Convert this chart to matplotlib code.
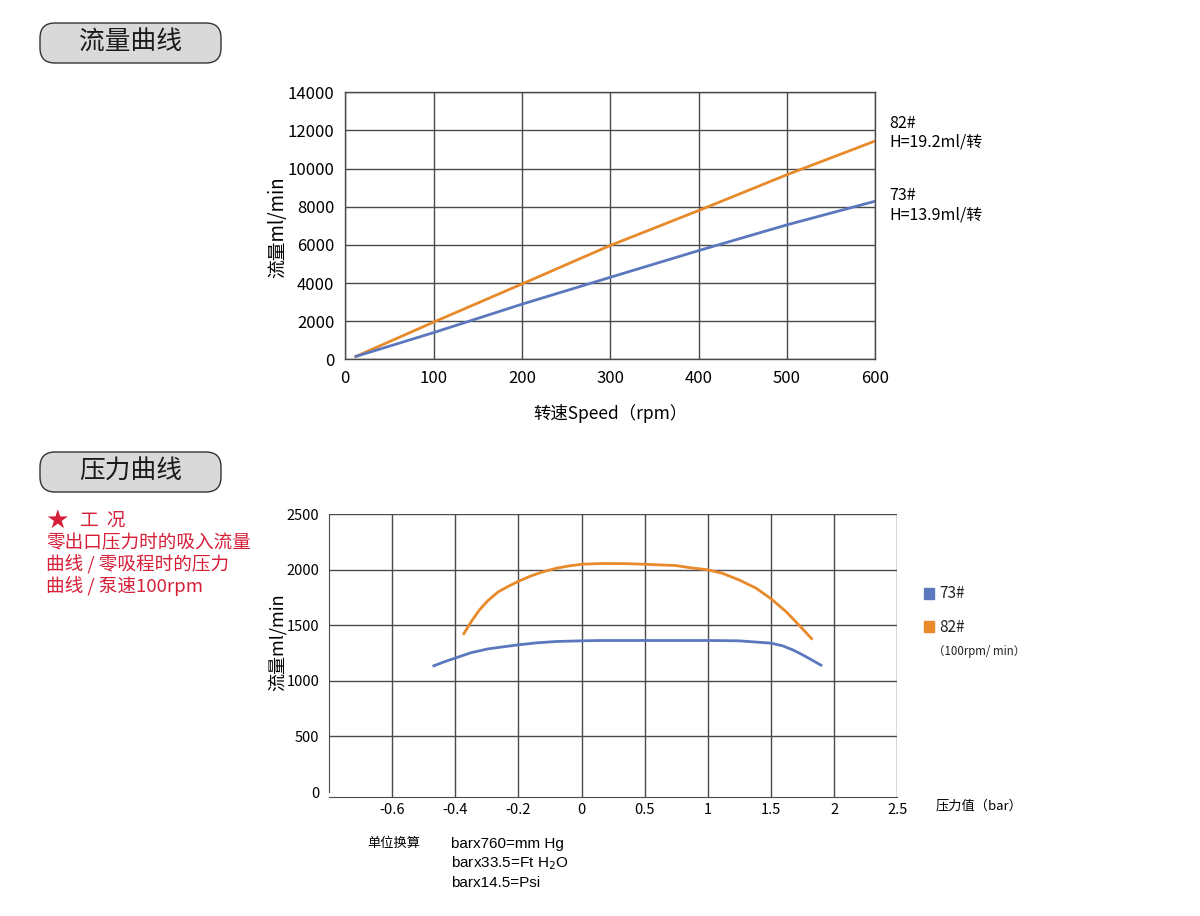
import numpy as np
import matplotlib
matplotlib.use("Agg")
import matplotlib.pyplot as plt
from matplotlib.patches import FancyBboxPatch

plt.rcParams['font.family'] = ['Noto Sans CJK SC', 'DejaVu Sans']

# ---------------- data ----------------
speed = [12, 100, 200, 300, 400, 500, 600]
flow_73 = [150, 1400, 2890, 4300, 5700, 7050, 8290]
flow_82 = [150, 1950, 3950, 5970, 7800, 9680, 11450]

pressure_ticks = [-0.8, -0.6, -0.4, -0.2, 0, 0.5, 1, 1.5, 2, 2.5]
pressure_labels = ['', '-0.6', '-0.4', '-0.2', '0', '0.5', '1', '1.5', '2', '2.5']

p73 = [-0.468, -0.434, -0.4, -0.349, -0.297, -0.243, -0.2, -0.141, -0.079, 0, 0.169,
       0.5, 0.848, 1.0, 1.246, 1.5, 1.592, 1.671, 1.75, 1.829, 1.895]
q73 = [1136, 1173, 1206, 1255, 1288, 1309, 1325, 1343, 1355, 1361, 1364,
       1364, 1364, 1364, 1361, 1340, 1316, 1280, 1235, 1185, 1142]
p82 = [-0.373, -0.349, -0.323, -0.297, -0.265, -0.233, -0.201, -0.16, -0.119, -0.079,
       -0.038, 0.008, 0.169, 0.35, 0.5, 0.742, 0.848, 1.0, 1.112, 1.246, 1.38, 1.5,
       1.618, 1.724, 1.821]
q82 = [1425, 1536, 1641, 1722, 1800, 1850, 1895, 1946, 1985, 2015,
       2036, 2051, 2057, 2056, 2050, 2039, 2021, 2000, 1970, 1910, 1836, 1740,
       1625, 1500, 1381]

ORANGE = '#E8892A'
BLUE = '#5B78BE'
RED = '#D6203A'
GRID = '#4a4a4a'

W, H = 1200, 916
fig = plt.figure(figsize=(12, 9.16), dpi=100)

def fx(px):
    return px / W

def fy(py):
    return 1 - py / H

# ---------- header boxes ----------
def header(top, bottom, text):
    x0, x1 = 40, 221
    box = FancyBboxPatch((x0 / 100, (H - bottom) / 100), (x1 - x0) / 100, (bottom - top) / 100,
                         boxstyle="round,pad=0,rounding_size=0.15",
                         transform=fig.dpi_scale_trans, facecolor='#d9d9d9',
                         edgecolor='#333333', linewidth=1.0)
    fig.patches.append(box)
    fig.text(fx((x0 + x1) / 2), fy((top + bottom) / 2), text, ha='center', va='center',
             fontsize=18.5, color='#1a1a1a')

header(23, 63, '流量曲线')
header(452, 492, '压力曲线')

# ---------- top chart ----------
ax1 = fig.add_axes([fx(345.3), fy(359.3), fx(875.3) - fx(345.3), fy(92.3) - fy(359.3)])
ax1.plot(speed, flow_82, color=ORANGE, lw=2)
ax1.plot(speed, flow_73, color=BLUE, lw=2)
ax1.set_xlim(0, 600)
ax1.set_ylim(0, 14000)
ax1.set_xticks(range(0, 601, 100))
ax1.set_yticks(range(0, 14001, 2000))
ax1.grid(True, color=GRID, lw=1)
ax1.tick_params(length=0, labelsize=12, pad=8)
for s in ax1.spines.values():
    s.set_color(GRID)
    s.set_linewidth(1)
ax1.set_axisbelow(True)
fig.text(fx(278), fy(227), '流量ml/min', fontsize=13.5, rotation=90, ha='center', va='center')
ax1.set_xlabel('转速Speed（rpm）', fontsize=12.5, labelpad=12)

fig.text(fx(889), fy(123), '82#', fontsize=11.5, va='center', ha='left')
fig.text(fx(889), fy(142), 'H=19.2ml/转', fontsize=11.5, va='center', ha='left')
fig.text(fx(889), fy(196), '73#', fontsize=11.5, va='center', ha='left')
fig.text(fx(889), fy(215), 'H=13.9ml/转', fontsize=11.5, va='center', ha='left')

# ---------- bottom chart ----------
ax2 = fig.add_axes([fx(329), fy(797), fx(897.3) - fx(329), fy(514.3) - fy(797)])
pos_idx = np.arange(len(pressure_ticks))
x73 = np.interp(p73, pressure_ticks, pos_idx)
x82 = np.interp(p82, pressure_ticks, pos_idx)
ax2.plot(x82, q82, color=ORANGE, lw=2, solid_joinstyle='round')
ax2.plot(x73, q73, color=BLUE, lw=2, solid_joinstyle='round')
ax2.set_xlim(0, len(pressure_ticks) - 1)
ax2.set_ylim(-45, 2500)
ax2.set_xticks(pos_idx)
ax2.set_xticklabels(pressure_labels)
ax2.set_yticks(range(0, 2501, 500))
for v in range(500, 2501, 500):
    ax2.axhline(v, color=GRID, lw=1, zorder=0)
for i in pos_idx[1:]:
    ax2.axvline(i, color=GRID, lw=1, zorder=0)
ax2.tick_params(length=0, labelsize=10.5)
ax2.tick_params(axis='x', pad=4)
ax2.tick_params(axis='y', pad=7)
ax2.spines['top'].set_visible(False)
ax2.spines['right'].set_visible(False)
ax2.spines['left'].set_color(GRID)
ax2.spines['bottom'].set_color(GRID)
ax2.spines['left'].set_bounds(0, 2500)
fig.text(fx(277), fy(642), '流量ml/min', fontsize=13, rotation=90, ha='center', va='center')

fig.text(fx(936), fy(806), '压力值（bar）', fontsize=9.5, va='center', ha='left')

# legend
fig.patches.append(plt.Rectangle((fx(924), fy(599)), fx(10), fy(588) - fy(599),
                                 transform=fig.transFigure, color=BLUE))
fig.patches.append(plt.Rectangle((fx(924), fy(632)), fx(10), fy(621) - fy(632),
                                 transform=fig.transFigure, color=ORANGE))
fig.text(fx(939), fy(594), '73#', fontsize=11, va='center', ha='left', color='#222222')
fig.text(fx(939), fy(627), '82#', fontsize=11, va='center', ha='left', color='#222222')
fig.text(fx(933), fy(651), '（100rpm/ min）', fontsize=8.3, va='center', ha='left', color='#222222')

# red notes
fig.text(fx(45), fy(521), '★', fontsize=19, color=RED, va='center', ha='left',
         family=['DejaVu Sans'])
fig.text(fx(80), fy(521), '工  况', fontsize=13.4, color=RED, va='center', ha='left')
fig.text(fx(46), fy(543), '零出口压力时的吸入流量', fontsize=13.4, color=RED, va='center', ha='left')
fig.text(fx(46), fy(564), '曲线 / 零吸程时的压力', fontsize=13.4, color=RED, va='center', ha='left')
fig.text(fx(46), fy(586), '曲线 / 泵速100rpm', fontsize=13.4, color=RED, va='center', ha='left')

# unit conversion notes
fig.text(fx(367), fy(843), '单位换算', fontsize=9.5, va='center', ha='left')
for y, s in [(844, 'barx760=mm Hg'), (863, 'barx33.5=Ft H$_2$O'), (883, 'barx14.5=Psi')]:
    fig.text(fx(451), fy(y), s, fontsize=11, va='center', ha='left', family=['Liberation Sans'])

fig.savefig('out.png', dpi=100)
